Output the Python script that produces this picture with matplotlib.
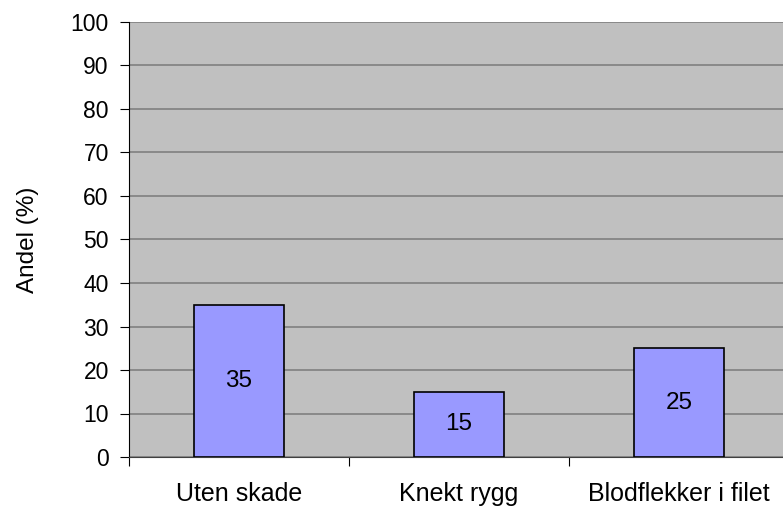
import matplotlib
matplotlib.use("Agg")
import matplotlib.pyplot as plt

categories = ["Uten skade", "Knekt rygg", "Blodflekker i filet"]
values = [35, 15, 25]
y_ticks = list(range(0, 101, 10))

plt.rcParams['font.family'] = ['Liberation Sans', 'DejaVu Sans']

fig = plt.figure(figsize=(7.83, 5.07), dpi=100)
ax = fig.add_axes([129 / 783, 50 / 507, 660 / 783, 435 / 507])
ax.set_facecolor("#C0C0C0")

x = list(range(len(categories)))
bars = ax.bar(x, values, width=0.405, color="#9999FF", edgecolor="black",
              linewidth=1.2, zorder=3)

for bar, v in zip(bars, values):
    ax.text(bar.get_x() + bar.get_width() / 2, v / 2, str(v),
            ha="center", va="center", fontsize=17.5, zorder=4)

ax.set_xlim(-0.5, len(categories) - 0.5)
ax.set_ylim(0, 100)
ax.set_yticks(y_ticks)
ax.yaxis.grid(True, color="#808080", linewidth=1.2, zorder=0)
ax.set_axisbelow(True)

# category boundary ticks, labels on minor ticks
ax.set_xticks([i - 0.5 for i in range(len(categories) + 1)])
ax.set_xticklabels([])
ax.set_xticks(x, minor=True)
ax.set_xticklabels(categories, minor=True, fontsize=18)
ax.tick_params(axis="x", which="major", direction="out", length=6.5, width=0.8, color="black")
ax.tick_params(axis="x", which="minor", length=0, pad=18)
ax.tick_params(axis="y", direction="out", length=6.5, width=0.8, labelsize=16.5, pad=8)

for side in ["top", "right"]:
    ax.spines[side].set_visible(False)
ax.spines["left"].set_color("black")
ax.spines["bottom"].set_color("#404040")

ax.set_ylabel("Andel (%)", fontsize=17.5, labelpad=23)

fig.savefig("out.png", dpi=100)
